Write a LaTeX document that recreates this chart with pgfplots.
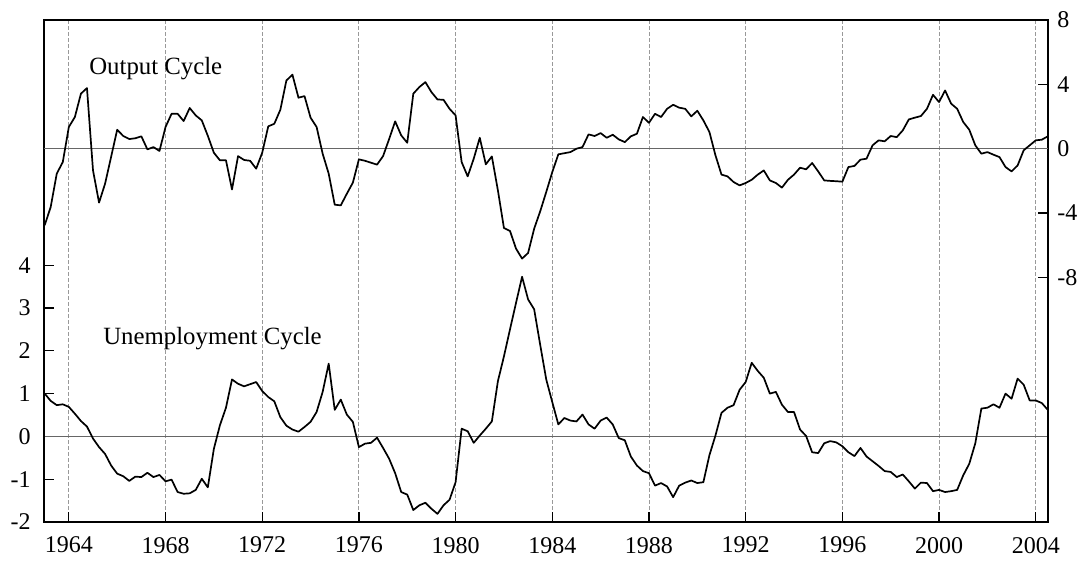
\documentclass[border=0pt]{standalone}
\usepackage{fontspec}
\setmainfont{Liberation Serif}
\usepackage{pgfplots}
\usepackage{pgfplotstable}
\pgfplotsset{compat=1.18}

\pgfplotstableread{
x y
1963.00 -4.76
1963.25 -3.62
1963.50 -1.55
1963.75 -0.83
1964.00 1.35
1964.25 1.97
1964.50 3.42
1964.75 3.77
1965.00 -1.35
1965.25 -3.35
1965.50 -2.17
1965.75 -0.50
1966.00 1.18
1966.25 0.79
1966.50 0.60
1966.75 0.65
1967.00 0.77
1967.25 -0.04
1967.50 0.10
1967.75 -0.14
1968.00 1.35
1968.25 2.17
1968.50 2.17
1968.75 1.72
1969.00 2.53
1969.25 2.07
1969.50 1.76
1969.75 0.80
1970.00 -0.25
1970.25 -0.72
1970.50 -0.72
1970.75 -2.53
1971.00 -0.46
1971.25 -0.70
1971.50 -0.75
1971.75 -1.24
1972.00 -0.25
1972.25 1.39
1972.50 1.55
1972.75 2.42
1973.00 4.24
1973.25 4.60
1973.50 3.17
1973.75 3.27
1974.00 1.93
1974.25 1.35
1974.50 -0.31
1974.75 -1.55
1975.00 -3.48
1975.25 -3.52
1975.50 -2.80
1975.75 -2.11
1976.00 -0.66
1976.25 -0.75
1976.50 -0.87
1976.75 -0.99
1977.00 -0.46
1977.25 0.60
1977.50 1.70
1977.75 0.83
1978.00 0.37
1978.25 3.42
1978.50 3.83
1978.75 4.14
1979.00 3.52
1979.25 3.06
1979.50 3.04
1979.75 2.48
1980.00 2.07
1980.25 -0.83
1980.50 -1.72
1980.75 -0.62
1981.00 0.68
1981.25 -0.97
1981.50 -0.48
1981.75 -2.59
1982.00 -4.93
1982.25 -5.11
1982.50 -6.21
1982.75 -6.83
1983.00 -6.48
1983.25 -4.97
1983.50 -3.89
1983.75 -2.69
1984.00 -1.45
1984.25 -0.35
1984.50 -0.28
1984.75 -0.21
1985.00 0.00
1985.25 0.10
1985.50 0.89
1985.75 0.79
1986.00 0.97
1986.25 0.68
1986.50 0.87
1986.75 0.58
1987.00 0.41
1987.25 0.77
1987.50 0.93
1987.75 1.97
1988.00 1.61
1988.25 2.17
1988.50 1.97
1988.75 2.48
1989.00 2.73
1989.25 2.55
1989.50 2.48
1989.75 2.01
1990.00 2.36
1990.25 1.76
1990.50 1.04
1990.75 -0.41
1991.00 -1.61
1991.25 -1.72
1991.50 -2.07
1991.75 -2.28
1992.00 -2.13
1992.25 -1.93
1992.50 -1.61
1992.75 -1.35
1993.00 -1.97
1993.25 -2.13
1993.50 -2.42
1993.75 -1.93
1994.00 -1.61
1994.25 -1.18
1994.50 -1.28
1994.75 -0.89
1995.00 -1.41
1995.25 -1.97
1995.50 -2.00
1995.75 -2.02
1996.00 -2.05
1996.25 -1.14
1996.50 -1.07
1996.75 -0.68
1997.00 -0.62
1997.25 0.21
1997.50 0.52
1997.75 0.46
1998.00 0.79
1998.25 0.72
1998.50 1.14
1998.75 1.82
1999.00 1.93
1999.25 2.03
1999.50 2.48
1999.75 3.35
2000.00 2.90
2000.25 3.62
2000.50 2.80
2000.75 2.48
2001.00 1.66
2001.25 1.18
2001.50 0.21
2001.75 -0.31
2002.00 -0.21
2002.25 -0.37
2002.50 -0.52
2002.75 -1.14
2003.00 -1.41
2003.25 -1.04
2003.50 -0.10
2003.75 0.21
2004.00 0.52
2004.25 0.56
2004.50 0.77
}\outputtable

\pgfplotstableread{
x y
1963.00 1.00
1963.25 0.83
1963.50 0.73
1963.75 0.75
1964.00 0.69
1964.25 0.53
1964.50 0.36
1964.75 0.23
1965.00 -0.05
1965.25 -0.25
1965.50 -0.41
1965.75 -0.68
1966.00 -0.87
1966.25 -0.93
1966.50 -1.04
1966.75 -0.94
1967.00 -0.95
1967.25 -0.85
1967.50 -0.95
1967.75 -0.90
1968.00 -1.05
1968.25 -1.01
1968.50 -1.30
1968.75 -1.34
1969.00 -1.33
1969.25 -1.25
1969.50 -0.99
1969.75 -1.19
1970.00 -0.29
1970.25 0.26
1970.50 0.67
1970.75 1.33
1971.00 1.23
1971.25 1.17
1971.50 1.22
1971.75 1.27
1972.00 1.06
1972.25 0.92
1972.50 0.82
1972.75 0.45
1973.00 0.25
1973.25 0.16
1973.50 0.11
1973.75 0.22
1974.00 0.34
1974.25 0.57
1974.50 1.04
1974.75 1.70
1975.00 0.62
1975.25 0.86
1975.50 0.51
1975.75 0.34
1976.00 -0.25
1976.25 -0.17
1976.50 -0.15
1976.75 -0.03
1977.00 -0.27
1977.25 -0.52
1977.50 -0.86
1977.75 -1.30
1978.00 -1.36
1978.25 -1.72
1978.50 -1.61
1978.75 -1.55
1979.00 -1.69
1979.25 -1.81
1979.50 -1.61
1979.75 -1.48
1980.00 -1.07
1980.25 0.18
1980.50 0.12
1980.75 -0.15
1981.00 0.02
1981.25 0.18
1981.50 0.35
1981.75 1.29
1982.00 1.87
1982.25 2.50
1982.50 3.12
1982.75 3.73
1983.00 3.20
1983.25 2.97
1983.50 2.14
1983.75 1.33
1984.00 0.80
1984.25 0.28
1984.50 0.43
1984.75 0.37
1985.00 0.35
1985.25 0.51
1985.50 0.28
1985.75 0.18
1986.00 0.37
1986.25 0.44
1986.50 0.28
1986.75 -0.04
1987.00 -0.09
1987.25 -0.47
1987.50 -0.68
1987.75 -0.81
1988.00 -0.86
1988.25 -1.15
1988.50 -1.09
1988.75 -1.17
1989.00 -1.42
1989.25 -1.15
1989.50 -1.08
1989.75 -1.03
1990.00 -1.09
1990.25 -1.07
1990.50 -0.44
1990.75 0.02
1991.00 0.55
1991.25 0.67
1991.50 0.73
1991.75 1.09
1992.00 1.27
1992.25 1.72
1992.50 1.53
1992.75 1.37
1993.00 1.00
1993.25 1.04
1993.50 0.74
1993.75 0.57
1994.00 0.57
1994.25 0.16
1994.50 0.01
1994.75 -0.37
1995.00 -0.39
1995.25 -0.16
1995.50 -0.11
1995.75 -0.14
1996.00 -0.23
1996.25 -0.37
1996.50 -0.46
1996.75 -0.27
1997.00 -0.47
1997.25 -0.58
1997.50 -0.69
1997.75 -0.81
1998.00 -0.83
1998.25 -0.95
1998.50 -0.89
1998.75 -1.05
1999.00 -1.22
1999.25 -1.08
1999.50 -1.09
1999.75 -1.28
2000.00 -1.25
2000.25 -1.30
2000.50 -1.28
2000.75 -1.25
2001.00 -0.91
2001.25 -0.64
2001.50 -0.16
2001.75 0.65
2002.00 0.67
2002.25 0.75
2002.50 0.67
2002.75 1.00
2003.00 0.88
2003.25 1.35
2003.50 1.21
2003.75 0.84
2004.00 0.84
2004.25 0.78
2004.50 0.62
}\unemptable

\begin{document}
\begin{tikzpicture}
\pgfplotsset{
  cyc/.style={
    scale only axis, width=502.3pt, height=251pt,
    at={(0,0)}, anchor=south west,
    xmin=1962.96, xmax=2004.52,
    axis line style={line width=0.85pt, black},
    tick style={black, line width=0.6pt},
    tick align=inside,
    major tick length=5pt, minor tick length=3pt,
    /pgf/number format/assume math mode=true,
    /pgf/number format/1000 sep={},
    ticklabel style={font=\fontsize{12}{14}\selectfont},
  }
}
\begin{axis}[cyc,
  ymin=-2, ymax=9.73,
  ytick={-2,-1,0,1,2,3,4},
  ytick pos=left,
  xtick={1964,1968,...,2004},
  minor x tick num=3,
  xtick pos=bottom,
  xticklabel style={yshift=-4pt},
  yticklabel style={xshift=-3pt},
  xmajorgrids,
  major grid style={black!40, line width=0.45pt, dash pattern=on 2pt off 1pt},
]
\addplot[black!60, line width=0.55pt, forget plot] coordinates {(1962.96,0) (2004.52,0)};
\addplot[black, line width=0.85pt, line join=round] table[x=x,y=y] {\unemptable};
\node[anchor=base west, inner sep=0pt, font=\fontsize{12.4}{14}\selectfont] at (axis cs:1965.41,2.15) {Unemployment Cycle};
\end{axis}
\begin{axis}[cyc,
  ymin=-23.2, ymax=8,
  ytick={-8,-4,0,4,8},
  ytick pos=right,
  xtick=\empty,
  yticklabel style={xshift=1pt},
]
\addplot[black!60, line width=0.55pt, forget plot] coordinates {(1962.96,0) (2004.52,0)};
\addplot[black, line width=0.85pt, line join=round] table[x=x,y=y] {\outputtable};
\node[anchor=base west, inner sep=0pt, font=\fontsize{12.4}{14}\selectfont] at (axis cs:1964.83,4.6) {Output Cycle};
\end{axis}
\pgfresetboundingbox
\path[use as bounding box] (-21.85pt,-20.25pt) rectangle (519.65pt,261pt);
\end{tikzpicture}
\end{document}
